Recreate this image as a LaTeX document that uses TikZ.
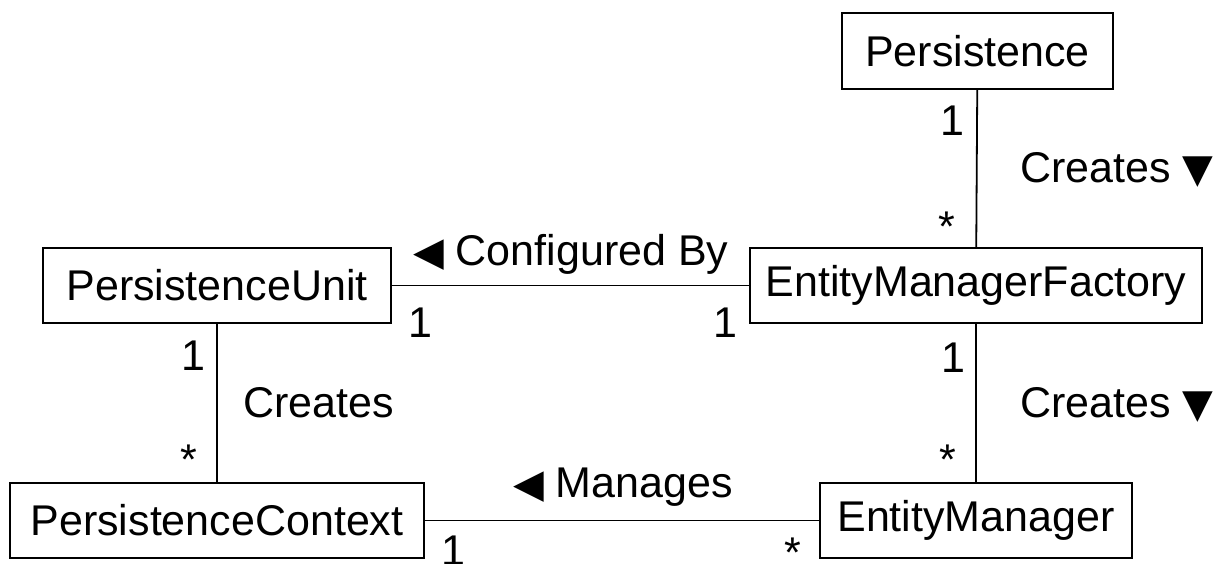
\documentclass[tikz,border=0pt]{standalone}
\usepackage{fontspec}
\setmainfont{Liberation Sans}
\newfontfamily\symfont{DejaVu Sans}
\newcommand{\tridown}{{\symfont\fontsize{40}{40}\selectfont ▼}}
\newcommand{\trileft}{{\symfont\fontsize{40}{40}\selectfont ◀}}
\begin{document}
\begin{tikzpicture}[x=1pt,y=-1pt,
  every node/.style={font=\fontsize{43}{48}\selectfont},
  classbox/.style={draw, line width=1.8pt, rectangle, inner sep=0pt, minimum height=75pt},
  assoc/.style={line width=1.8pt},
  mult/.style={anchor=base, inner sep=0pt},
  rolelabel/.style={anchor=base west, inner sep=0pt}]
\useasboundingbox (0,0) rectangle (1227,563);
\clip (0,0) rectangle (1227,563);

% classes
\node[classbox, minimum width=271pt, minimum height=76pt] (pers) at (977.5,51) {Persistence};
\node[classbox, minimum width=452pt] (emf) at (976,285.5) {EntityManagerFactory};
\node[classbox, minimum width=348pt] (pu)  at (217,285.5) {PersistenceUnit};
\node[classbox, minimum width=414pt] (pc)  at (217,520.5) {PersistenceContext};
\node[classbox, minimum width=312pt] (em)  at (976,520.5) {EntityManager};

% associations
\draw[assoc] (pers) -- (emf);
\draw[assoc] (emf) -- (em);
\draw[assoc] (pu) -- (emf);
\draw[assoc] (pu) -- (pc);
\draw[assoc] (pc) -- (em);

% Persistence -- EntityManagerFactory
\node[mult] (m1) at (952,135) {1};
\node[mult] (m2) at (947,241) {*};
\node[rolelabel] (r1) at (1020,182) {Creates \tridown};

% PersistenceUnit -- EntityManagerFactory
\node[rolelabel] (r2) at (413,265) {\trileft\ Configured By};
\node[mult] (m3) at (420,337) {1};
\node[mult] (m4) at (725,337) {1};

% PersistenceUnit -- PersistenceContext
\node[mult] (m5) at (193,370) {1};
\node[mult] (m6) at (189,474) {*};
\node[rolelabel] (r3) at (243,417) {Creates};

% EntityManagerFactory -- EntityManager
\node[mult] (m7) at (953,372) {1};
\node[mult] (m8) at (948,474) {*};
\node[rolelabel] (r4) at (1020,417) {Creates \tridown};

% PersistenceContext -- EntityManager
\node[rolelabel] (r5) at (513,497) {\trileft\ Manages};
\node[mult] (m9) at (453,565) {1};
\node[mult] (m10) at (793,567) {*};
\end{tikzpicture}
\end{document}
